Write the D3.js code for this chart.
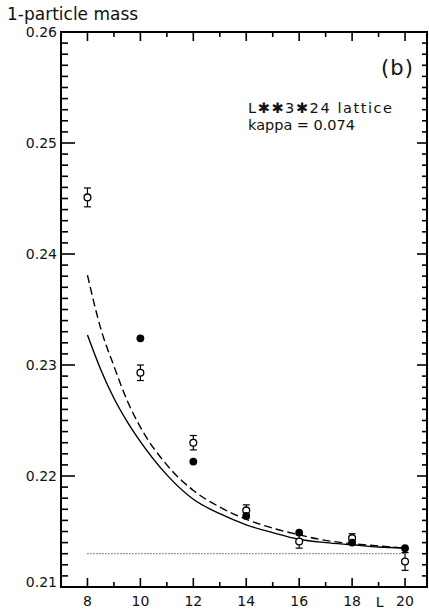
<!DOCTYPE html>
<html>
<head>
<meta charset="utf-8">
<script src="https://cdn.jsdelivr.net/npm/d3@7/dist/d3.min.js"></script>
<style>
  html, body { margin: 0; padding: 0; background: #fff; }
  svg { display: block; }
  text { font-family: "DejaVu Sans", "Liberation Sans", sans-serif; fill: #111; }
</style>
</head>
<body>
<svg id="chart" width="429" height="612"></svg>
<script>
// Lattice sizes and measured 1-particle masses
const sizesOpen = [8, 10, 12, 14, 16, 18, 20];
const massOpen = [0.2451, 0.2293, 0.2230, 0.2169, 0.2141, 0.2144, 0.2123];
const errOpen = [0.00085, 0.0007, 0.00065, 0.0005, 0.0006, 0.0004, 0.0008];

const sizesFilled = [10, 12, 14, 16, 18, 20];
const massFilled = [0.2324, 0.2213, 0.2164, 0.2149, 0.2140, 0.2135];

// Finite-size curves
const curveL = [8, 8.5, 9, 9.5, 10, 11, 12, 13, 14, 15, 16, 17, 18, 19, 20];
const massSolid = [0.2327, 0.2296, 0.2270, 0.2249, 0.2231, 0.2201, 0.2179, 0.2166, 0.2156, 0.2149, 0.2143, 0.2140, 0.2138, 0.2136, 0.2135];
const massDashed = [0.2381, 0.2333, 0.2299, 0.2268, 0.2244, 0.2210, 0.2187, 0.2172, 0.2161, 0.2153, 0.2147, 0.2142, 0.2139, 0.2137, 0.2135];

// Infinite-volume mass level
const massInf = 0.2130;
const infRange = [8, 20];

// Axis ticks
const xTickLabels = [8, 10, 12, 14, 16, 18, 20];
const yTickLabels = [0.21, 0.22, 0.23, 0.24, 0.25, 0.26];

const svg = d3.select("#chart");
const ink = "#000";

const x = d3.scaleLinear().domain([7, 20.83]).range([61, 427]);
const y = d3.scaleLinear().domain([0.21, 0.26]).range([587, 32]);

const xLeft = 61, xRight = 427, yBottom = 587, yTop = 32;

// Frame
svg.append("rect")
  .attr("x", xLeft).attr("y", yTop)
  .attr("width", xRight - xLeft).attr("height", yBottom - yTop)
  .attr("fill", "none").attr("stroke", ink).attr("stroke-width", 2);

// Inward ticks on all four sides
const xTickVals = d3.range(8, 21, 1);
const yTickVals = d3.range(1, 50).map(i => 0.21 + i * 0.001);
const isMajorX = v => v % 2 === 0;
const isMajorY = v => Math.abs(Math.round(v * 100) - v * 100) < 1e-6;

const tickG = svg.append("g").attr("stroke", ink).attr("stroke-width", 1.6);
xTickVals.forEach(v => {
  const len = isMajorX(v) ? 9 : 5;
  tickG.append("line").attr("x1", x(v)).attr("x2", x(v)).attr("y1", yBottom).attr("y2", yBottom - len);
  tickG.append("line").attr("x1", x(v)).attr("x2", x(v)).attr("y1", yTop).attr("y2", yTop + len);
});
yTickVals.forEach(v => {
  const major = isMajorY(v);
  tickG.append("line").attr("x1", xLeft).attr("x2", xLeft + (major ? 14 : 7)).attr("y1", y(v)).attr("y2", y(v));
  tickG.append("line").attr("x1", xRight).attr("x2", xRight - (major ? 10 : 5)).attr("y1", y(v)).attr("y2", y(v));
});

// Tick labels
svg.append("g").selectAll("text").data(xTickLabels).join("text")
  .attr("x", d => x(d)).attr("y", 606)
  .attr("text-anchor", "middle").attr("font-size", 14)
  .text(d => d);

svg.append("g").selectAll("text").data(yTickLabels).join("text")
  .attr("x", 57).attr("y", d => y(d) + (d === 0.21 ? 0 : 5))
  .attr("text-anchor", "end").attr("font-size", 14)
  .text(d => d.toFixed(2));

svg.append("text").attr("x", x(19) + 1).attr("y", 607)
  .attr("text-anchor", "middle").attr("font-size", 14).text("L");

svg.append("text").attr("x", 7).attr("y", 20)
  .attr("font-size", 17).text("1-particle mass");

// Annotations
svg.append("text").attr("x", 381).attr("y", 75)
  .attr("font-size", 21).attr("textLength", 32).text("(b)");
svg.append("text").attr("x", 248).attr("y", 113)
  .attr("font-size", 14.5).attr("textLength", 144).text("L\u2731\u27313\u273124 lattice");
svg.append("text").attr("x", 248).attr("y", 130)
  .attr("font-size", 14.5).attr("textLength", 107).text("kappa = 0.074");

// Infinite-volume level
svg.append("line")
  .attr("x1", x(infRange[0])).attr("x2", x(infRange[1]))
  .attr("y1", y(massInf)).attr("y2", y(massInf))
  .attr("stroke", ink).attr("stroke-width", 1).attr("stroke-dasharray", "1,2");

// Curves
const curveGen = d3.line().x(d => x(d[0])).y(d => y(d[1])).curve(d3.curveMonotoneX);
svg.append("path")
  .attr("d", curveGen(d3.zip(curveL, massSolid)))
  .attr("fill", "none").attr("stroke", ink).attr("stroke-width", 1.4);
svg.append("path")
  .attr("d", curveGen(d3.zip(curveL, massDashed)))
  .attr("fill", "none").attr("stroke", ink).attr("stroke-width", 1.4)
  .attr("stroke-dasharray", "8,4");

// Open points with error bars
const openData = d3.zip(sizesOpen, massOpen, errOpen);
const eb = svg.append("g").attr("stroke", ink).attr("stroke-width", 1.2);
openData.forEach(([L, m, e]) => {
  const cx = x(L);
  eb.append("line").attr("x1", cx).attr("x2", cx).attr("y1", y(m - e)).attr("y2", y(m + e));
  eb.append("line").attr("x1", cx - 3.5).attr("x2", cx + 3.5).attr("y1", y(m - e)).attr("y2", y(m - e));
  eb.append("line").attr("x1", cx - 3.5).attr("x2", cx + 3.5).attr("y1", y(m + e)).attr("y2", y(m + e));
});
svg.append("g").selectAll("circle").data(openData).join("circle")
  .attr("cx", d => x(d[0])).attr("cy", d => y(d[1])).attr("r", 3.4)
  .attr("fill", "#fff").attr("stroke", ink).attr("stroke-width", 1.3);

// Filled points
svg.append("g").selectAll("circle").data(d3.zip(sizesFilled, massFilled)).join("circle")
  .attr("cx", d => x(d[0])).attr("cy", d => y(d[1])).attr("r", 3.9)
  .attr("fill", ink);
</script>
</body>
</html>
